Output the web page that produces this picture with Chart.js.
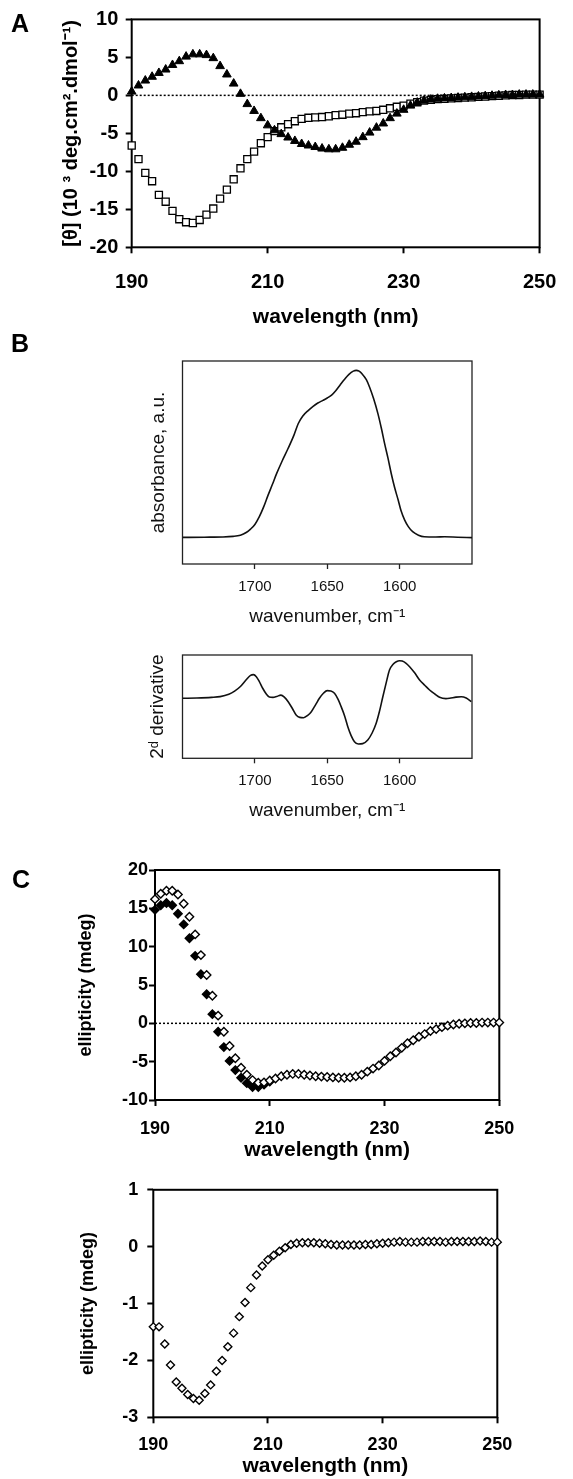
<!DOCTYPE html>
<html>
<head>
<meta charset="utf-8">
<script src="https://cdn.jsdelivr.net/npm/chart.js@4.4.0/dist/chart.umd.min.js"></script>
<style>
    body { margin: 0; background: #fff; width: 573px; height: 1479px; position: relative; overflow: hidden; }
    canvas { position: absolute; left: 0; }
    .tag { position: absolute; z-index: 5; font: bold 25px "Liberation Sans", Arial, sans-serif; line-height: 1; color: #000; }
</style>
</head>
<body>
<canvas id="chartA" width="573" height="340" style="top:0px"></canvas>
<canvas id="chartB1" width="573" height="300" style="top:330px"></canvas>
<canvas id="chartB2" width="573" height="190" style="top:640px"></canvas>
<canvas id="chartC1" width="573" height="315" style="top:850px"></canvas>
<canvas id="chartC2" width="573" height="309" style="top:1170px"></canvas>
<div class="tag" style="left:11px;top:11px">A</div>
<div class="tag" style="left:11px;top:331px">B</div>
<div class="tag" style="left:12px;top:867px">C</div>
<script>
//-- wavelength grid shared by the CD panels (nm) --
const wavelengthNm = [
    190, 191, 192, 193, 194, 195, 196, 197, 198, 199,
    200, 201, 202, 203, 204, 205, 206, 207, 208, 209,
    210, 211, 212, 213, 214, 215, 216, 217, 218, 219,
    220, 221, 222, 223, 224, 225, 226, 227, 228, 229,
    230, 231, 232, 233, 234, 235, 236, 237, 238, 239,
    240, 241, 242, 243, 244, 245, 246, 247, 248, 249,
    250
];
const wavelengthTicks = [190, 210, 230, 250];
const zeroLineNm = [190, 250];

//-- panel A: mean residue ellipticity (10^3 deg.cm2.dmol-1) --
const thetaTicks = [-20, -15, -10, -5, 0, 5, 10];
const thetaTriangles = [
    0.5, 1.3, 1.95, 2.45, 2.95, 3.4, 4.0, 4.5, 5.1, 5.4,
    5.4, 5.3, 4.9, 3.85, 2.75, 1.55, 0.2, -1.15, -2.05, -3.0,
    -3.95, -4.6, -5.1, -5.55, -6.0, -6.4, -6.6, -6.8, -7.0, -7.1,
    -7.1, -6.9, -6.5, -6.1, -5.5, -4.9, -4.25, -3.7, -3.0, -2.4,
    -1.9, -1.35, -0.95, -0.7, -0.55, -0.45, -0.4, -0.35, -0.3, -0.25,
    -0.2, -0.15, -0.1, -0.05, 0, 0.05, 0.05, 0.1, 0.1, 0.1,
    0.1
];
const thetaSquares = [
    -6.6, -8.4, -10.2, -11.3, -13.1, -14.0, -15.2, -16.3, -16.7, -16.8,
    -16.4, -15.7, -14.9, -13.6, -12.4, -11.05, -9.6, -8.4, -7.4, -6.3,
    -5.5, -4.7, -4.2, -3.8, -3.4, -3.1, -2.95, -2.9, -2.85, -2.75,
    -2.6, -2.55, -2.4, -2.35, -2.2, -2.1, -2.05, -1.9, -1.7, -1.5,
    -1.35, -1.1, -0.9, -0.7, -0.6, -0.5, -0.45, -0.4, -0.35, -0.3,
    -0.25, -0.2, -0.15, -0.1, -0.05, 0, 0.05, 0.05, 0.1, 0.1,
    0.1
];

//-- panel B: FTIR amide I band and its 2nd derivative (a.u.) --
const wavenumberTicks = [1700, 1650, 1600];
const absWavenumber = [
    1750, 1735, 1722, 1715, 1710, 1706, 1703, 1700, 1697, 1694,
    1691, 1688, 1685, 1681, 1677, 1673, 1670, 1667, 1663, 1660,
    1656.5, 1653, 1650, 1647, 1644, 1641, 1638, 1635, 1632, 1630,
    1628, 1626, 1623, 1620.8, 1618, 1615, 1612.5, 1610.4, 1608, 1605.8,
    1603.5, 1601, 1599, 1596.5, 1594, 1591, 1587, 1583, 1575, 1569,
    1560, 1550
];
const absorbance = [
    0.131, 0.132, 0.133, 0.136, 0.142, 0.155, 0.172, 0.195, 0.232, 0.28,
    0.337, 0.39, 0.445, 0.51, 0.57, 0.635, 0.692, 0.728, 0.757, 0.775,
    0.793, 0.806, 0.818, 0.832, 0.855, 0.883, 0.91, 0.934, 0.95, 0.954,
    0.95, 0.937, 0.908, 0.872, 0.815, 0.741, 0.665, 0.594, 0.52, 0.446,
    0.378, 0.315, 0.262, 0.216, 0.184, 0.159, 0.142, 0.134, 0.133, 0.134,
    0.132, 0.13
];
const derivWavenumber = [
    1750, 1740, 1730, 1724, 1718, 1714, 1710, 1706, 1703, 1701,
    1699, 1697, 1694.6, 1692, 1690, 1687.5, 1685, 1682, 1679.5, 1677,
    1674, 1671.5, 1669, 1666.3, 1663.5, 1661, 1658, 1655.4, 1652.5, 1650,
    1647.5, 1645, 1642.5, 1640.4, 1638, 1635.8, 1633.5, 1631.2, 1628.5, 1625.5,
    1622, 1619, 1616.2, 1614, 1611.6, 1609.3, 1607, 1604.5, 1602.3, 1600,
    1598.2, 1595.5, 1593.1, 1589.5, 1586.2, 1582.5, 1579.3, 1575.5, 1572.4, 1568,
    1565.5, 1561, 1557.4, 1554, 1550.5
];
const secondDerivative = [
    0.581, 0.584, 0.59, 0.597, 0.62, 0.65, 0.695, 0.76, 0.803, 0.81,
    0.79, 0.745, 0.678, 0.62, 0.593, 0.59, 0.598, 0.612, 0.59, 0.548,
    0.48, 0.42, 0.396, 0.393, 0.415, 0.451, 0.52, 0.581, 0.632, 0.655,
    0.652, 0.629, 0.57, 0.5, 0.41, 0.306, 0.22, 0.161, 0.138, 0.142,
    0.177, 0.245, 0.339, 0.45, 0.596, 0.73, 0.855, 0.91, 0.935, 0.945,
    0.942, 0.92, 0.887, 0.825, 0.758, 0.705, 0.661, 0.62, 0.59, 0.578,
    0.581, 0.592, 0.596, 0.583, 0.548
];

//-- panel C: ellipticity (mdeg) --
const ellipTicksTop = [-10, -5, 0, 5, 10, 15, 20];
const ellipOpen = [
    16.2, 16.9, 17.3, 17.3, 16.8, 15.6, 13.9, 11.6, 8.9, 6.3,
    3.6, 1.0, -1.1, -2.95, -4.55, -5.8, -6.7, -7.4, -7.75, -7.7,
    -7.45, -7.2, -6.9, -6.7, -6.6, -6.6, -6.7, -6.8, -6.9, -6.95,
    -7.0, -7.05, -7.1, -7.1, -7.05, -6.9, -6.7, -6.3, -5.9, -5.5,
    -4.9, -4.3, -3.8, -3.2, -2.6, -2.2, -1.75, -1.4, -1.0, -0.75,
    -0.5, -0.3, -0.15, -0.05, 0, 0.05, 0.05, 0.1, 0.1, 0.1,
    0.1
];
const ellipFilled = [
    14.8, 15.4, 15.7, 15.4, 14.3, 12.9, 11.1, 8.8, 6.4, 3.8,
    1.2, -1.1, -3.1, -4.9, -6.1, -7.1, -7.8, -8.3, -8.3, -8.0,
    -7.6
];
const ellipTicksBottom = [-3, -2, -1, 0, 1];
const ellipDiff = [
    -1.41, -1.41, -1.71, -2.08, -2.38, -2.49, -2.6, -2.67, -2.7, -2.58,
    -2.43, -2.19, -2.0, -1.76, -1.52, -1.23, -0.98, -0.72, -0.5, -0.34,
    -0.23, -0.15, -0.08, -0.02, 0.04, 0.06, 0.07, 0.07, 0.07, 0.06,
    0.05, 0.04, 0.03, 0.03, 0.03, 0.03, 0.03, 0.04, 0.04, 0.05,
    0.06, 0.07, 0.08, 0.09, 0.08, 0.08, 0.08, 0.09, 0.09, 0.09,
    0.09, 0.08, 0.09, 0.09, 0.09, 0.09, 0.09, 0.1, 0.09, 0.08,
    0.08
];

const FONT = '"Liberation Sans", Arial, Helvetica, sans-serif';

//-- plugin: closed frame around the plot area --
const framePlugin = {
    id: "frame",
    beforeDatasetsDraw(chart, args, opts) {
        const { left, top, right, bottom } = chart.chartArea;
        const ctx = chart.ctx;
        ctx.save();
        ctx.strokeStyle = opts.color || "#000";
        ctx.lineWidth = opts.width || 2;
        ctx.strokeRect(left, top, right - left, bottom - top);
        ctx.restore();
    }
};

function toPoints(xs, ys) {
    return ys.map((y, i) => ({ x: xs[i], y: y }));
}

//-- axes for the CD panels (bold Arial-like labels, outward ticks) --
function cdScales(o) {
    return {
        x: {
            type: "linear", min: 190, max: 250,
            afterBuildTicks: s => { s.ticks = wavelengthTicks.map(v => ({ value: v })); },
            afterFit: s => { s.height = o.xHeight; },
            grid: { drawOnChartArea: false, drawTicks: true, tickLength: 6, tickWidth: 2, tickColor: "#000" },
            border: { display: false },
            ticks: { color: "#000", padding: o.xTickPad, maxRotation: 0, callback: v => String(v), font: { family: FONT, weight: "bold", size: o.tickSize } },
            title: {
                display: true, text: "wavelength (nm)", color: "#000",
                font: { family: FONT, weight: "bold", size: o.xTitleSize },
                padding: { top: 0, bottom: o.xTitlePad }
            }
        },
        y: {
            type: "linear", min: o.yTicks[0], max: o.yTicks[o.yTicks.length - 1],
            afterBuildTicks: s => { s.ticks = o.yTicks.map(v => ({ value: v })); },
            afterFit: s => { s.width = o.yWidth; },
            grid: { drawOnChartArea: false, drawTicks: true, tickLength: 6, tickWidth: 2, tickColor: "#000" },
            border: { display: false },
            ticks: { color: "#000", padding: o.yTickPad, callback: v => String(v), font: { family: FONT, weight: "bold", size: o.tickSize } },
            title: {
                display: true, text: o.yTitle, color: "#000",
                font: { family: FONT, weight: "bold", size: o.yTitleSize },
                padding: { top: o.yTitlePad, bottom: 0 }
            }
        }
    };
}

//-- axes for the FTIR panels (plain labels, no y ticks) --
function irScales(o) {
    return {
        x: {
            type: "linear", min: 1550, max: 1750, reverse: true,
            afterBuildTicks: s => { s.ticks = wavenumberTicks.map(v => ({ value: v })); },
            afterFit: s => { s.height = o.xHeight; },
            grid: { drawOnChartArea: false, drawTicks: true, tickLength: 5, tickWidth: 1.3, tickColor: "#222" },
            border: { display: false },
            ticks: { color: "#111", padding: 9, maxRotation: 0, callback: v => String(v), font: { family: FONT, size: 15 } },
            title: {
                display: true, text: "wavenumber, cm\u207B\u00B9", color: "#111",
                font: { family: FONT, size: 19 },
                padding: { top: 0, bottom: o.xTitlePad }
            }
        },
        y: {
            type: "linear", min: 0, max: 1,
            afterFit: s => { s.width = 182.5; },
            grid: { display: false },
            border: { display: false },
            ticks: { display: false },
            title: {
                display: true, text: o.yTitle, color: "#111",
                font: { family: FONT, size: 19 },
                padding: { top: o.yTitlePad, bottom: 0 }
            }
        }
    };
}

function zeroLine() {
    return {
        data: zeroLineNm.map(x => ({ x: x, y: 0 })),
        showLine: true, borderColor: "#000", borderWidth: 1.5, borderDash: [2, 2],
        pointRadius: 0, clip: false, order: 5
    };
}

const base = { responsive: false, animation: false, events: [], devicePixelRatio: 1 };
const noLegend = { legend: { display: false }, tooltip: { enabled: false } };

//-- A: two CD spectra --
new Chart(document.getElementById("chartA"), {
    type: "scatter",
    data: {
        datasets: [
            {
                data: toPoints(wavelengthNm, thetaTriangles), pointStyle: "triangle", pointRadius: 5,
                backgroundColor: "#000", borderColor: "#000", borderWidth: 1, clip: false, order: 0
            },
            {
                data: toPoints(wavelengthNm, thetaSquares), pointStyle: "rect", pointRadius: 5,
                backgroundColor: "#fff", borderColor: "#000", borderWidth: 1.3, clip: false, order: 1
            },
            zeroLine()
        ]
    },
    options: Object.assign({}, base, {
        layout: { padding: { left: 0, top: 16.7, right: 18, bottom: 0 } },
        plugins: Object.assign({ frame: { width: 2, color: "#000" } }, noLegend),
        scales: cdScales({
            xHeight: 92.7, yWidth: 131.7, tickSize: 20, xTickPad: 16.7, yTickPad: 7.4,
            xTitleSize: 21, xTitlePad: 10.4, yTicks: thetaTicks,
            yTitle: "[\u03B8] (10 \u00B3 deg.cm\u00B2.dmol\u207B\u00B9)", yTitleSize: 20, yTitlePad: 59.7
        })
    }),
    plugins: [framePlugin]
});

//-- B: absorbance --
new Chart(document.getElementById("chartB1"), {
    type: "line",
    data: {
        datasets: [{
            data: toPoints(absWavenumber, absorbance), borderColor: "#111", borderWidth: 1.6,
            pointRadius: 0, cubicInterpolationMode: "monotone"
        }]
    },
    options: Object.assign({}, base, {
        layout: { padding: { left: 0, top: 31, right: 101, bottom: 0 } },
        plugins: Object.assign({ frame: { width: 1.3, color: "#222" } }, noLegend),
        scales: irScales({ xHeight: 66, xTitlePad: 2.1, yTitle: "absorbance, a.u.", yTitlePad: 147.8 })
    }),
    plugins: [framePlugin]
});

//-- B: second derivative --
new Chart(document.getElementById("chartB2"), {
    type: "line",
    data: {
        datasets: [{
            data: toPoints(derivWavenumber, secondDerivative), borderColor: "#111", borderWidth: 1.6,
            pointRadius: 0, cubicInterpolationMode: "monotone"
        }]
    },
    options: Object.assign({}, base, {
        layout: { padding: { left: 0, top: 15, right: 101, bottom: 0 } },
        plugins: Object.assign({ frame: { width: 1.3, color: "#222" } }, noLegend),
        scales: irScales({ xHeight: 71.7, xTitlePad: 7.9, yTitle: "2\u1D48 derivative", yTitlePad: 146 })
    }),
    plugins: [framePlugin]
});

//-- C: ellipticity, two samples --
new Chart(document.getElementById("chartC1"), {
    type: "scatter",
    data: {
        datasets: [
            {
                data: toPoints(wavelengthNm, ellipOpen), pointStyle: "rectRot", pointRadius: 4.2,
                backgroundColor: "#fff", borderColor: "#000", borderWidth: 1.4, clip: false, order: 0
            },
            {
                data: toPoints(wavelengthNm, ellipFilled), pointStyle: "rectRot", pointRadius: 4.2,
                backgroundColor: "#000", borderColor: "#000", borderWidth: 1.4, clip: false, order: 1
            },
            zeroLine()
        ]
    },
    options: Object.assign({}, base, {
        layout: { padding: { left: 0, top: 20, right: 73.7, bottom: 0 } },
        plugins: Object.assign({ frame: { width: 2, color: "#000" } }, noLegend),
        scales: cdScales({
            xHeight: 65, yWidth: 155, tickSize: 18, xTickPad: 12.5, yTickPad: 1,
            xTitleSize: 21, xTitlePad: 2.4, yTicks: ellipTicksTop,
            yTitle: "ellipticity (mdeg)", yTitleSize: 18, yTitlePad: 75
        })
    }),
    plugins: [framePlugin]
});

//-- C: difference spectrum --
new Chart(document.getElementById("chartC2"), {
    type: "scatter",
    data: {
        datasets: [{
            data: toPoints(wavelengthNm, ellipDiff), pointStyle: "rectRot", pointRadius: 4,
            backgroundColor: "#fff", borderColor: "#000", borderWidth: 1.4, clip: false
        }]
    },
    options: Object.assign({}, base, {
        layout: { padding: { left: 0, top: 17.3, right: 75.7, bottom: 0 } },
        plugins: Object.assign({ frame: { width: 2, color: "#000" } }, noLegend),
        scales: cdScales({
            xHeight: 61.7, yWidth: 153.3, tickSize: 18, xTickPad: 10.9, yTickPad: 9,
            xTitleSize: 21, xTitlePad: 0, yTicks: ellipTicksBottom,
            yTitle: "ellipticity (mdeg)", yTitleSize: 18, yTitlePad: 77
        })
    }),
    plugins: [framePlugin]
});
</script>
</body>
</html>
